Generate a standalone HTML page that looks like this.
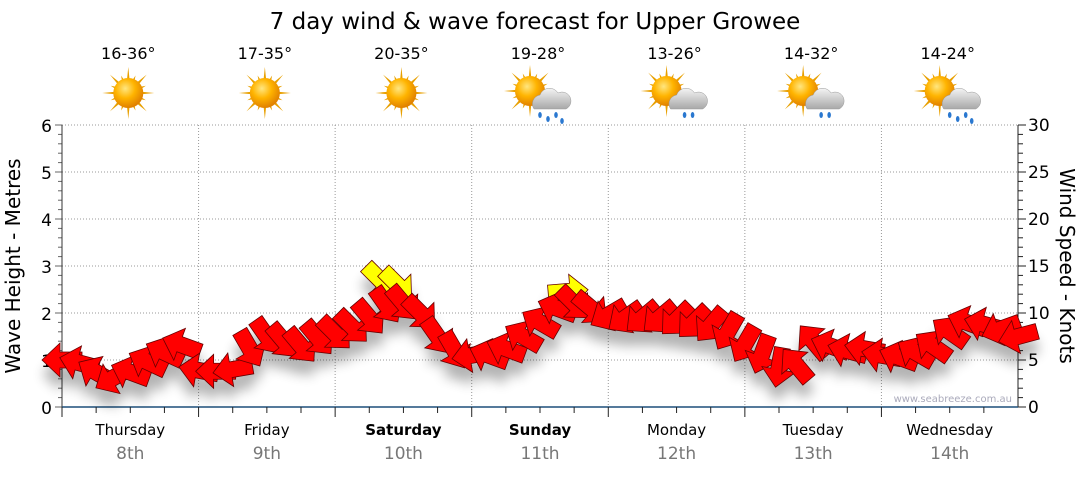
<!DOCTYPE html>
<html><head><meta charset="utf-8"><style>
body{margin:0;background:#fff;width:1080px;height:475px;overflow:hidden;font-family:"Liberation Sans","DejaVu Sans",sans-serif}
svg text{font-family:"DejaVu Sans","Liberation Sans",sans-serif}
</style></head><body>
<svg id="chart" width="1080" height="475" viewBox="0 0 1080 475" xmlns="http://www.w3.org/2000/svg">
<defs>
<radialGradient id="sunG" cx="40%" cy="35%" r="65%"><stop offset="0" stop-color="#ffe680"/><stop offset="0.5" stop-color="#ffb400"/><stop offset="1" stop-color="#e08000"/></radialGradient>
<linearGradient id="cloudG" x1="0" y1="0" x2="0" y2="1"><stop offset="0" stop-color="#f4f4f4"/><stop offset="1" stop-color="#a8a8a8"/></linearGradient>
<filter id="blur" x="-20%" y="-50%" width="140%" height="200%"><feGaussianBlur stdDeviation="6"/></filter>
</defs>
<text x="535" y="29" font-size="23" text-anchor="middle" fill="#000">7 day wind &amp; wave forecast for Upper Growee</text>
<g id="grid"></g><g id="axes"></g><g id="icons"></g>
<g id="shadow" filter="url(#blur)" opacity="0.3"></g>
<g id="arrows"></g>
<text x="1012" y="402" font-size="10" text-anchor="end" fill="#aab">www.seabreeze.com.au</text>
<text transform="translate(20,266) rotate(-90)" font-size="20" text-anchor="middle">Wave Height - Metres</text>
<text transform="translate(1060,266) rotate(90)" font-size="20" text-anchor="middle">Wind Speed - Knots</text>
</svg>
<script>
const days=["Thursday","Friday","Saturday","Sunday","Monday","Tuesday","Wednesday"];
const dates=["8th","9th","10th","11th","12th","13th","14th"];
const temps=["16-36°","17-35°","20-35°","19-28°","13-26°","14-32°","14-24°"];
const weather=["sun","sun","sun","rain","cloud","cloud","rain"];
const waveTicks=[0,1,2,3,4,5,6];
const windTicks=[0,5,10,15,20,25,30];
// wind speed (knots) every 3 hours
const windSpeed=[5.0,4.7,3.7,3.1,3.7,4.8,5.8,6.6,
3.9,3.8,4.0,6.2,7.5,7.0,6.5,7.3,
7.8,8.5,9.5,10.8,11.0,10.0,7.5,6.0,
5.5,5.5,6.2,7.5,9.0,10.5,11.0,10.5,
9.8,9.5,9.5,9.5,9.3,9.0,8.7,8.0,
6.7,5.6,4.2,4.5,7.0,6.5,6.0,6.2,
5.5,5.3,5.8,6.5,8.0,9.0,8.8,8.3,7.5];
// arrow direction (screen degrees, 0 = pointing right, 90 = down)
const windDir=[180,195,210,150,200,205,205,200,
190,180,170,60,55,50,50,50,
45,45,50,55,50,45,55,60,
170,200,200,210,210,200,45,40,
150,145,140,140,135,135,130,120,
120,110,100,230,230,200,195,190,
190,200,210,215,215,200,195,160,165];
const gustIdx=[19,20,30];
const gustSpeed=[13.5,13.0,12.3];
const gustDir=[45,45,-5];

const X0=62,X1=1018,Y0=407,Y1=125;
const NS="http://www.w3.org/2000/svg";
const dayW=(X1-X0)/7;
const xAt=i=>X0+i*dayW/8;
const yWave=m=>Y0-m*(Y0-Y1)/6;
const yWind=k=>Y0-k*(Y0-Y1)/30;
function mk(tag,attrs,parent){const e=document.createElementNS(NS,tag);for(const k in attrs)e.setAttribute(k,attrs[k]);parent.appendChild(e);return e;}
const grid=document.getElementById('grid'),axes=document.getElementById('axes'),icons=document.getElementById('icons');
waveTicks.forEach(m=>{
 if(m>0){const l=mk('line',{x1:X0,x2:X1,y1:yWave(m),y2:yWave(m),stroke:'#999','stroke-dasharray':'1,2'},grid);
 
 }
 const t=mk('text',{x:X0-10,y:yWave(m)+7,'font-size':17,'text-anchor':'end'},axes);t.textContent=m;
 
 
});
for(let i=0;i<=30;i++){const y=Y0-i*(Y0-Y1)/30;mk('line',{x1:X0-(i%5?4:7),x2:X0,y1:y,y2:y,stroke:'#666'},axes);mk('line',{x1:X1,x2:X1+(i%5?5:8),y1:y,y2:y,stroke:'#222'},axes);}
windTicks.forEach(k=>{const t=mk('text',{x:X1+10,y:yWind(k)+6,'font-size':17},axes);t.textContent=k;
 
 });
mk('line',{x1:X0,x2:X0,y1:Y1,y2:Y0,stroke:'#333'},axes);
mk('line',{x1:X1,x2:X1,y1:Y1,y2:Y0,stroke:'#222'},axes);
mk('line',{x1:X0,x2:X1,y1:Y0,y2:Y0,stroke:'#1d4f7a','stroke-width':1.5},axes);
for(let d=0;d<7;d++){
 const xs=X0+d*dayW;
 if(d>0){const l=mk('line',{x1:xs,x2:xs,y1:Y1,y2:Y0,stroke:'#999','stroke-dasharray':'1,2'},grid);
 
 }
 mk('line',{x1:xs,x2:xs,y1:Y0,y2:Y0+10,stroke:'#222'},axes);
 for(let q=1;q<4;q++){const xq=xs+q*dayW/4;mk('line',{x1:xq,x2:xq,y1:Y0,y2:Y0+6,stroke:'#222'},axes);}
 const cx=xs+dayW/2;
 const n=mk('text',{x:cx,y:435,'font-size':15,'text-anchor':'middle','font-weight':(d==2||d==3)?'bold':'normal'},axes);n.textContent=days[d];
 
 
 const dt=mk('text',{x:cx,y:459,'font-size':17,'text-anchor':'middle',fill:'#777'},axes);dt.textContent=dates[d];
 
 
 const tt=mk('text',{x:cx-2,y:59,'font-size':16,'text-anchor':'middle'},icons);tt.textContent=temps[d];
 
 
 const g=mk('g',{transform:`translate(${cx-2},${weather[d]=='sun'?93:95})`},icons);
 
 
 const sx=weather[d]=='sun'?0:-8, sy=weather[d]=='sun'?0:-4;
 for(let r=0;r<16;r++){const a=r*Math.PI/8,L=r%2?19:26;
  mk('polygon',{points:`${sx+Math.cos(a-0.12)*12},${sy+Math.sin(a-0.12)*12} ${sx+Math.cos(a)*L},${sy+Math.sin(a)*L} ${sx+Math.cos(a+0.12)*12},${sy+Math.sin(a+0.12)*12}`,fill:'#e8a000'},g);}
 mk('circle',{cx:sx,cy:sy,r:15,fill:'url(#sunG)'},g);
 if(weather[d]!='sun'){
  mk('path',{d:'M-4,14 a9,9 0 0 1 6,-14 a10,10 0 0 1 18,-2 a8,8 0 0 1 8,16 z',fill:'url(#cloudG)',stroke:'#999','stroke-width':0.5},g);
  const drops=weather[d]=='rain'?[[2,20],[10,24],[18,20],[24,26]]:[[10,20],[18,20]];
  drops.forEach(p=>mk('ellipse',{cx:p[0],cy:p[1],rx:1.8,ry:3,fill:'#2a78d0'},g));
 }
}
const arrows=document.getElementById('arrows'),shadow=document.getElementById('shadow');
const shape="-20,-8 2,-8 2,-17 20,0 2,17 2,8 -20,8";
function arrow(x,y,ang,fill,name){
 mk('polygon',{points:shape,transform:`translate(${x},${y+14}) rotate(${ang})`,fill:'#000'},shadow);
 const p=mk('polygon',{points:shape,transform:`translate(${x},${y}) rotate(${ang})`,fill:fill,stroke:'#600','stroke-width':0.8},arrows);
 
 
}
gustIdx.forEach((i,j)=>arrow(xAt(i)-6,yWind(gustSpeed[j]),gustDir[j],'#ffff00','gust-arrow'));
windSpeed.forEach((k,i)=>arrow(xAt(i),yWind(k),windDir[i],'#ff0000','wind-arrow'));
</script>
</body></html>
